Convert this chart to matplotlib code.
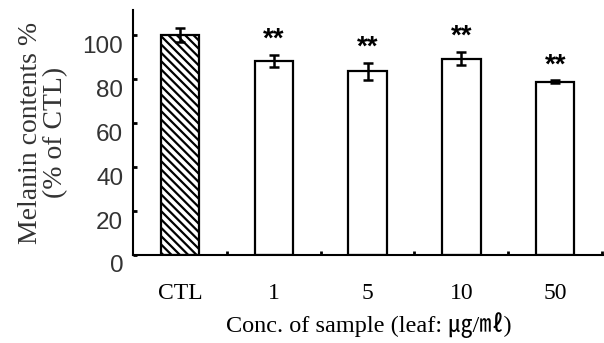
import numpy as np
import matplotlib.pyplot as plt
import matplotlib.transforms as mtransforms

# Data
groups = ['CTL', '1', '5', '10', '50']
melanin = [100.0, 88.2, 83.5, 89.2, 78.8]
err = [3.0, 2.6, 4.0, 3.0, 0.6]
signif = ['', '**', '**', '**', '**']

plt.rcParams['hatch.linewidth'] = 1.6
plt.rcParams['hatch.color'] = 'black'

fig = plt.figure(figsize=(6.04, 3.43), dpi=100)
ax = fig.add_axes([133/604, 1 - 255/343, 471/604, 245/343])

x = np.arange(len(groups))
bars = ax.bar(x, melanin, width=0.41, color='white', edgecolor='black', linewidth=1.6,
              yerr=err, capsize=3.5, error_kw=dict(elinewidth=1.8, capthick=1.8, ecolor='black'))
bars[0].set_hatch('\\\\\\\\')

# significance marks
for xi, v, e, s in zip(x, melanin, err, signif):
    if s:
        ax.text(xi, v + e + 1.0, s, ha='center', va='bottom', fontsize=20,
                fontweight='bold', family='Liberation Sans')

ax.set_xlim(-0.5, 4.52)
ax.set_ylim(0, 111.4)
ax.set_yticks([0, 20, 40, 60, 80, 100])
ax.set_xticks(x)
ax.set_xticklabels(groups, family='Liberation Serif', fontsize=17)
ax.set_xticks(np.arange(len(groups)) + 0.5, minor=True)
ax.tick_params(axis='x', which='major', length=0, pad=20)
ax.tick_params(axis='x', which='minor', direction='in', length=3, width=2)
ax.tick_params(axis='y', direction='in', length=3, width=2, labelsize=17.5, pad=7)
for lab in ax.get_yticklabels():
    lab.set_family('Liberation Sans')
    lab.set_color('#333333')
    lab.set_transform(lab.get_transform() + mtransforms.ScaledTranslation(0, -9/100, fig.dpi_scale_trans))

for side in ['top', 'right']:
    ax.spines[side].set_visible(False)
for side in ['left', 'bottom']:
    ax.spines[side].set_linewidth(1.5)

ax.set_ylabel('Melanin contents %\n(% of CTL)', family='Liberation Serif', fontsize=20,
              linespacing=1.0, color='#333333', va='center')
ax.yaxis.set_label_coords(-(133 - 43)/471, 0.5)
ax.set_xlabel('Conc. of sample (leaf: ㎍/㎖)', family=['Liberation Serif', 'Noto Sans CJK KR'],
              fontsize=17.5, labelpad=6)

fig.savefig('out.png', dpi=100)
